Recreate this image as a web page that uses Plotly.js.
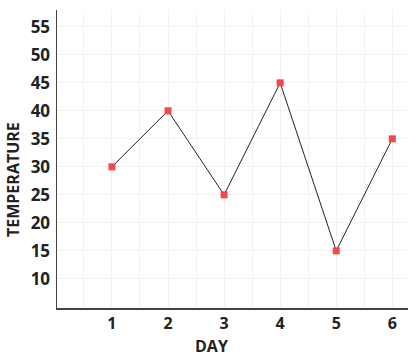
<!DOCTYPE html>
<html>
<head>
<meta charset="utf-8">
<script src="https://cdn.plot.ly/plotly-3.0.1.min.js"></script>
<style>html,body{margin:0;padding:0;background:#fff;}#chart{width:419px;height:360px;}</style>
</head>
<body>
<div id="chart"></div>
<script>
var days = [1, 2, 3, 4, 5, 6];
var temperature = [30, 40, 25, 45, 15, 35];
var yTicks = [10, 15, 20, 25, 30, 35, 40, 45, 50, 55];
var xTitle = 'DAY';
var yTitle = 'TEMPERATURE';

var trace = {
  x: days, y: temperature, type: 'scatter', mode: 'lines+markers',
  line: {color: '#222', width: 1},
  marker: {symbol: 'square', size: 7, color: '#f54848'},
  showlegend: false
};
var font = {family: 'Open Sans, sans-serif', color: '#222', weight: 'bold'};
var layout = {
  width: 419, height: 360,
  margin: {l: 57, r: 11, t: 10, b: 52},
  paper_bgcolor: '#fff', plot_bgcolor: '#fff',
  font: font,
  xaxis: {
    range: [0.02, 6.28], tickvals: days, ticktext: days.map(String),
    showgrid: false, zeroline: false,
    minor: {dtick: 0.5, tick0: 0, showgrid: true, gridcolor: '#f2f2f2', gridwidth: 1},
    showline: true, linecolor: '#444', linewidth: 1.5,
    ticks: '', tickfont: {size: 16, family: 'Open Sans, sans-serif', color: '#222', weight: 'bold'}
  },
  yaxis: {
    range: [4.8, 58], tickvals: yTicks, ticktext: yTicks.map(String),
    showgrid: true, gridcolor: '#f2f2f2', zeroline: false,
    showline: true, linecolor: '#444', linewidth: 1.5,
    ticks: '', ticklabelstandoff: 2,
    tickfont: {size: 17, family: 'Open Sans, sans-serif', color: '#222', weight: 'bold'}
  },
  annotations: [
    {text: xTitle, xref: 'paper', yref: 'paper', x: (211 - 57) / 351, y: -38 / 298,
     xanchor: 'center', yanchor: 'middle', showarrow: false,
     font: {size: 16, family: 'Open Sans, sans-serif', color: '#222', weight: 'bold'}},
    {text: yTitle, xref: 'paper', yref: 'paper', x: (13 - 57) / 351, y: (308 - 180) / 298,
     xanchor: 'center', yanchor: 'middle', textangle: -90, showarrow: false,
     font: {size: 16, family: 'Open Sans, sans-serif', color: '#222', weight: 'bold'}}
  ]
};
Plotly.newPlot('chart', [trace], layout, {staticPlot: true, displayModeBar: false});
</script>
</body>
</html>
